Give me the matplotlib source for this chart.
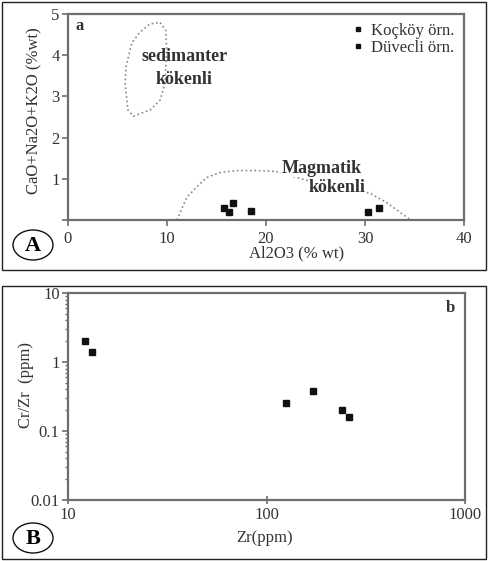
import numpy as np
import matplotlib
matplotlib.use("Agg")
import matplotlib.pyplot as plt
from matplotlib.patches import Rectangle, Ellipse

FS = 12
GRAY = "#6e6e6e"
TXT = "#333333"
matplotlib.rcParams['font.family'] = ['Liberation Serif', 'DejaVu Serif']
matplotlib.rcParams['axes.linewidth'] = 1.6

# panel A data (Al2O3 vs CaO+Na2O+K2O)
al2o3_k = [15.8, 16.3, 16.7, 18.5]
alk_k = [0.3, 0.2, 0.42, 0.22]
al2o3_d = [30.3, 31.4]
alk_d = [0.2, 0.3]

# field outlines
sed_x = [9.3, 9.87, 9.97, 9.8, 9.3, 8.3, 6.6, 6.05, 5.76, 5.86, 6.43, 7.27, 8.28, 9.3]
sed_y = [4.79, 4.61, 4.13, 3.32, 2.91, 2.67, 2.52, 2.67, 3.32, 3.71, 4.29, 4.56, 4.76, 4.79]
mag_x = [11.0, 12.0, 13.0, 14.0, 15.3, 17.0, 19.0, 21.0, 24.0, 27.0, 30.5, 32.2, 34.5]
mag_y = [0.0, 0.55, 0.8, 1.03, 1.15, 1.2, 1.2, 1.18, 0.97, 0.82, 0.65, 0.42, 0.02]

# panel B data (Zr vs Cr/Zr)
zr = [12.2, 13.2, 126, 172, 239, 261]
crzr = [2.04, 1.41, 0.257, 0.384, 0.201, 0.161]

fig = plt.figure(figsize=(4.88, 5.61), dpi=100)

# outer boxes
for y0, h in [(1 - 270/561, 268/561), (1 - 559/561, 273/561)]:
    fig.patches.append(Rectangle((2/488, y0), 484/488, h, transform=fig.transFigure,
                                 fill=False, edgecolor="#222222", linewidth=1.0))

def style(ax):
    for s in ax.spines.values():
        s.set_color(GRAY)
    ax.tick_params(colors=GRAY, labelcolor=TXT, labelsize=FS, width=1.2, length=4, pad=2)

# ---- panel A
ax = fig.add_axes([68/488, 1 - 220/561, 396/488, 206/561])
style(ax)
ax.tick_params(axis='x', pad=4)
ax.plot(sed_x, sed_y, linestyle=':', color='#888888', linewidth=1.2)
ax.plot(mag_x, mag_y, linestyle=':', color='#888888', linewidth=1.2)
ax.plot(al2o3_k, alk_k, 's', color='#111111', markersize=4, label='Koçköy örn.')
ax.plot(al2o3_d, alk_d, 's', color='#111111', markersize=4, label='Düvecli örn.')
ax.text(11.8, 3.96, "sedimanter", fontsize=13, color=TXT, ha='center', va='center', fontweight='bold')
ax.text(11.7, 3.4, "kökenli", fontsize=13, color=TXT, ha='center', va='center', fontweight='bold')
ax.text(25.6, 1.26, "Magmatik", fontsize=13, color=TXT, ha='center', va='center', fontweight='bold',
        bbox=dict(facecolor='white', edgecolor='none', pad=0.5))
ax.text(27.2, 0.78, "kökenli", fontsize=13, color=TXT, ha='center', va='center', fontweight='bold',
        bbox=dict(facecolor='white', edgecolor='none', pad=0.5))
ax.text(1.2, 4.72, "a", fontsize=FS, color=TXT, ha='center', va='center', fontweight='bold')
ax.set_xlim(0, 40)
ax.set_ylim(0, 5)
ax.set_xticks([0, 10, 20, 30, 40])
ax.set_yticks([0, 1, 2, 3, 4, 5])
ax.set_yticklabels(["", "1", "2", "3", "4", "5"])
ax.set_xlabel("Al2O3 (% wt)", fontsize=FS, color=TXT)
ax.xaxis.set_label_coords(0.578, -0.125)
ax.set_ylabel("CaO+Na2O+K2O (%wt)", fontsize=FS, color=TXT)
ax.yaxis.set_label_coords(-0.065, 0.53)
ax.legend(loc='upper right', frameon=False, fontsize=FS, handlelength=0.6, handletextpad=0.5,
          borderaxespad=0.15, labelspacing=0.05, markerscale=0.8, labelcolor=TXT)

fig.patches.append(Ellipse((33/488, 1 - 245/561), 40/488, 30/561, transform=fig.transFigure,
                           fill=False, edgecolor="#111111", linewidth=1.0))
fig.text(33/488, 1 - 246/561, "A", fontsize=16, ha='center', va='center', fontweight='bold')

# ---- panel B
bx = fig.add_axes([68/488, 1 - 500/561, 397/488, 207/561])
style(bx)
bx.set_xscale('log')
bx.set_yscale('log')
bx.plot(zr, crzr, 's', color='#111111', markersize=5)
bx.set_xlim(10, 1000)
bx.set_ylim(0.01, 10)
bx.set_xticks([10, 100, 1000])
bx.set_xticklabels(["10", "100", "1000"])
bx.set_yticks([0.01, 0.1, 1, 10])
bx.set_yticklabels(["0.01", "0.1", "1", "10"])
bx.xaxis.set_minor_locator(matplotlib.ticker.NullLocator())
bx.tick_params(axis='x', direction='inout', length=6)
bx.tick_params(which='minor', colors=GRAY, width=1.0, length=2.5)
bx.text(0.962, 0.928, "b", transform=bx.transAxes, fontsize=FS, color=TXT, ha='center', va='center',
        fontweight='bold')
bx.set_xlabel("Zr(ppm)", fontsize=FS, color=TXT)
bx.xaxis.set_label_coords(0.496, -0.145)
bx.set_ylabel("Cr/Zr  (ppm)", fontsize=FS, color=TXT)
bx.yaxis.set_label_coords(-0.085, 0.556)

fig.patches.append(Ellipse((33/488, 1 - 538/561), 40/488, 30/561, transform=fig.transFigure,
                           fill=False, edgecolor="#111111", linewidth=1.0))
fig.text(33/488, 1 - 539/561, "B", fontsize=16, ha='center', va='center', fontweight='bold')

fig.savefig("out.png", dpi=100)
